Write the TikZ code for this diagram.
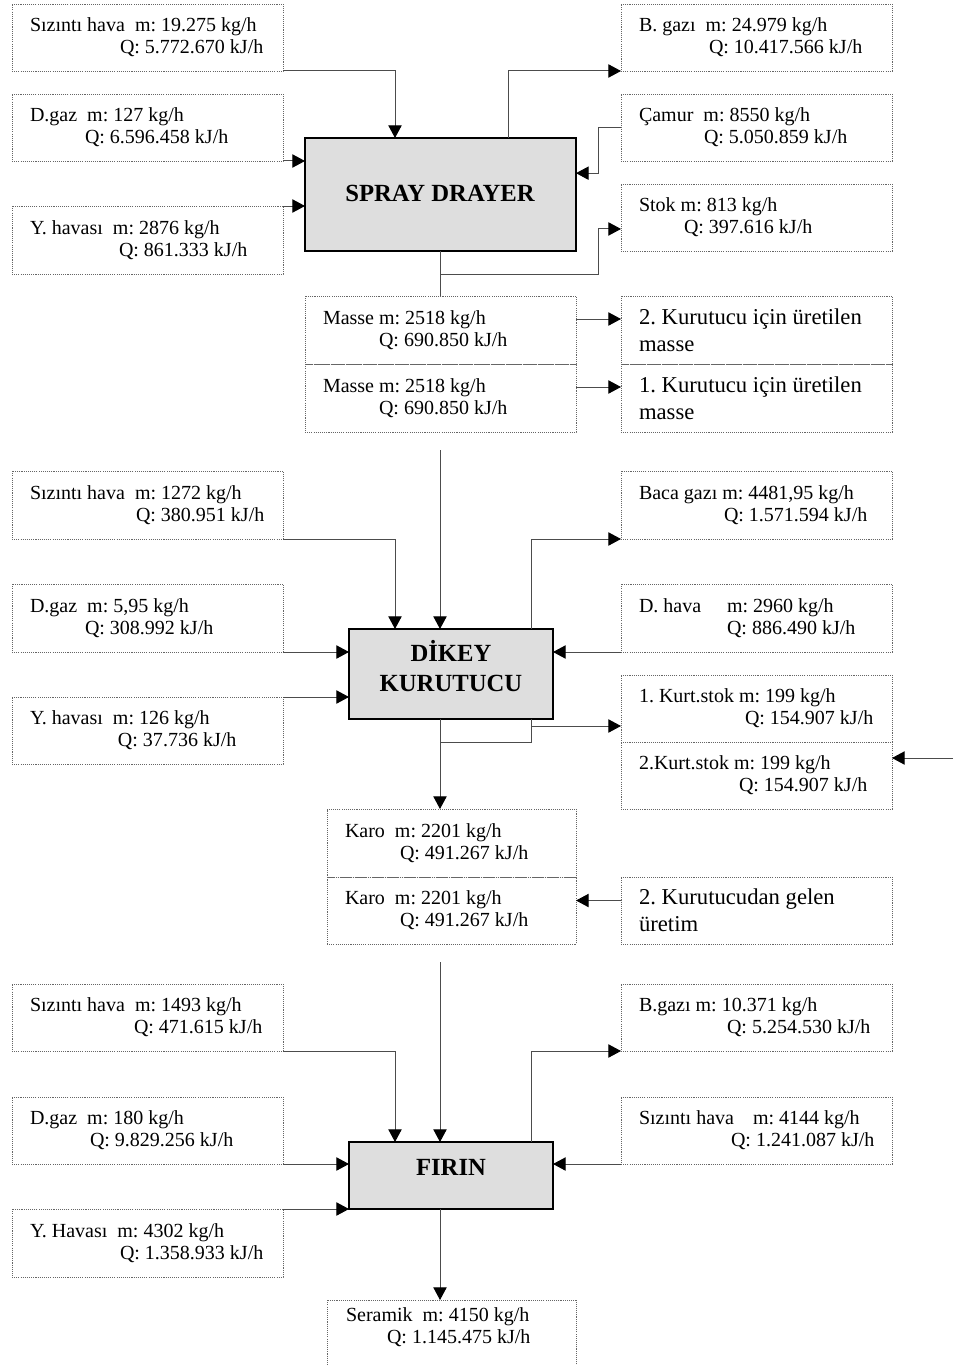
\documentclass[tikz,border=0pt]{standalone}
\usepackage{fontspec}
\setmainfont{Liberation Serif}
\frenchspacing
\usetikzlibrary{arrows.meta,calc}
\tikzset{
  dbox/.style={draw=black!60, line width=0.6pt, dash pattern=on 0.8pt off 0.8pt, rectangle, inner sep=0pt, outer sep=0pt},
  dtext/.style={inner sep=0pt, outer sep=0pt, align=left, font=\fontsize{15}{16.5}\selectfont},
  btext/.style={inner sep=0pt, outer sep=0pt, align=left, font=\fontsize{17}{20}\selectfont},
  pbox/.style={draw=black, line width=1pt, fill=black!13, rectangle, inner sep=0pt, outer sep=0pt},
  ptext/.style={inner sep=0pt, outer sep=0pt, align=center, font=\fontsize{18.5}{22}\selectfont\bfseries},
  conn/.style={draw=black!70, line width=0.75pt},
  arr/.style={conn, -{Triangle[length=9.5pt,width=10pt,color=black]}},
}
\newcommand\dbx[7]{%
  \node[dbox, anchor=north west, minimum width=#4*0.75pt, minimum height=#5*0.75pt] (#1) at (#2,#3) {};
  \node[#6, anchor=west] (#1t) at ([xshift=13.5pt]#1.west) {#7};}
\begin{document}
\begin{tikzpicture}[x=0.75pt,y=-0.75pt]
\useasboundingbox (0,0) rectangle (953,1366);
\clip (0,0) rectangle (953,1366);
\fill[white] (0,0) rectangle (953,1366);

% ---------- Section 1 ----------
\dbx{si1}{12}{4}{271}{67}{dtext}{Sızıntı hava\ \ m: 19.275 kg/h\\\hspace*{67.5pt}Q: 5.772.670 kJ/h}
\dbx{dg1}{12}{94}{271}{67}{dtext}{D.gaz\ \ m: 127 kg/h\\\hspace*{41.25pt}Q: 6.596.458 kJ/h}
\dbx{yh1}{12}{206}{271}{68}{dtext}{Y. havası\ \ m: 2876 kg/h\\\hspace*{66.75pt}Q: 861.333 kJ/h}
\dbx{bg1}{621}{4}{271}{67}{dtext}{B. gazı\ \ m: 24.979 kg/h\\\hspace*{52.5pt}Q: 10.417.566 kJ/h}
\dbx{ca1}{621}{94}{271}{67}{dtext}{Çamur\ \ m: 8550 kg/h\\\hspace*{48.75pt}Q: 5.050.859 kJ/h}
\dbx{st1}{621}{184}{271}{67}{dtext}{Stok m: 813 kg/h\\\hspace*{33.75pt}Q: 397.616 kJ/h}
\dbx{ma1}{305}{296}{271}{68}{dtext}{Masse m: 2518 kg/h\\\hspace*{42pt}Q: 690.850 kJ/h}
\dbx{ma2}{305}{364}{271}{68}{dtext}{Masse m: 2518 kg/h\\\hspace*{42pt}Q: 690.850 kJ/h}
\dbx{ku2}{621}{296}{271}{68}{btext}{2. Kurutucu için üretilen\\masse}
\dbx{ku1}{621}{364}{271}{68}{btext}{1. Kurutucu için üretilen\\masse}
\node[pbox, anchor=north west, minimum width=203.25pt, minimum height=84.75pt] (sd) at (305,138) {};
\node[ptext] (sdt) at (440,193) {SPRAY DRAYER};

% ---------- Section 2 ----------
\dbx{si2}{12}{471}{271}{68}{dtext}{Sızıntı hava\ \ m: 1272 kg/h\\\hspace*{79.5pt}Q: 380.951 kJ/h}
\dbx{dg2}{12}{584}{271}{68}{dtext}{D.gaz\ \ m: 5,95 kg/h\\\hspace*{41.25pt}Q: 308.992 kJ/h}
\dbx{yh2}{12}{697}{271}{67}{dtext}{Y. havası\ \ m: 126 kg/h\\\hspace*{66pt}Q: 37.736 kJ/h}
\dbx{ba2}{621}{471}{271}{68}{dtext}{Baca gazı m: 4481,95 kg/h\\\hspace*{63.75pt}Q: 1.571.594 kJ/h}
\dbx{dh2}{621}{584}{271}{68}{dtext}{\makebox[66pt][l]{D. hava}m: 2960 kg/h\\\hspace*{66pt}Q: 886.490 kJ/h}
\dbx{ks1}{621}{675}{271}{67}{dtext}{1. Kurt.stok m: 199 kg/h\\\hspace*{79.5pt}Q: 154.907 kJ/h}
\dbx{ks2}{621}{742}{271}{67}{dtext}{2.Kurt.stok m: 199 kg/h\\\hspace*{75pt}Q: 154.907 kJ/h}
\dbx{ka1}{327}{809}{249}{68}{dtext}{Karo\ \ m: 2201 kg/h\\\hspace*{41.25pt}Q: 491.267 kJ/h}
\dbx{ka2}{327}{877}{249}{67}{dtext}{Karo\ \ m: 2201 kg/h\\\hspace*{41.25pt}Q: 491.267 kJ/h}
\dbx{ge}{621}{877}{271}{67}{btext}{2. Kurutucudan gelen\\üretim}
\node[pbox, anchor=north west, minimum width=153pt, minimum height=67.5pt] (dk) at (349,629) {};
\node[ptext] (dkt) at (451,666) {DİKEY\\KURUTUCU};

% ---------- Section 3 ----------
\dbx{si3}{12}{984}{271}{67}{dtext}{Sızıntı hava\ \ m: 1493 kg/h\\\hspace*{78pt}Q: 471.615 kJ/h}
\dbx{dg3}{12}{1097}{271}{67}{dtext}{D.gaz\ \ m: 180 kg/h\\\hspace*{45pt}Q: 9.829.256 kJ/h}
\dbx{yh3}{12}{1209}{271}{68}{dtext}{Y. Havası\ \ m: 4302 kg/h\\\hspace*{67.5pt}Q: 1.358.933 kJ/h}
\dbx{bg3}{621}{984}{271}{67}{dtext}{B.gazı m: 10.371 kg/h\\\hspace*{66pt}Q: 5.254.530 kJ/h}
\dbx{sh3}{621}{1097}{271}{67}{dtext}{\makebox[85.5pt][l]{Sızıntı hava}m: 4144 kg/h\\\hspace*{69pt}Q: 1.241.087 kJ/h}
\node[dbox, anchor=north west, minimum width=186.75pt, minimum height=60pt] (se) at (327,1300) {};
\node[dtext, anchor=north west] (set) at (346,1308) {Seramik\ \ m: 4150 kg/h\\\hspace*{30.75pt}Q: 1.145.475 kJ/h};
\node[pbox, anchor=north west, minimum width=153pt, minimum height=50.25pt] (fi) at (349,1142) {};
\node[ptext] (fitxt) at (451,1167) {FIRIN};

% ---------- Connectors, section 1 ----------
\draw[arr] (si1.south east) -| ([xshift=67.5pt]sd.north west);
\draw[arr] (dg1.south east) -- (dg1.south east -| sd.west);
\draw[arr] (yh1.north east) -- (yh1.north east -| sd.west);
\draw[arr] ([xshift=152.25pt]sd.north west) |- (bg1.south west);
\draw[arr] (ca1.west) -- ++(-23,0) |- ([yshift=16pt]sd.east);
\coordinate (sdb) at ([xshift=101.25pt]sd.south west);
\draw[arr] (sdb) -- ++(0,23) -- ++(158,0) |- ([yshift=-8.6pt]st1.west);
\draw[conn] (sdb) -- (sdb |- ma1.north);
\draw[arr] ([yshift=8.25pt]ma1.east) -- ([yshift=8.25pt]ku2.west);
\draw[arr] ([yshift=8.25pt]ma2.east) -- ([yshift=8.25pt]ku1.west);

% ---------- Connectors, section 2 ----------
\coordinate (mab) at ($(ma2.south -| sdb)+(0,18)$);
\draw[arr] (mab) -- (mab |- dk.north);
\draw[arr] (si2.south east) -| ([xshift=34.5pt]dk.north west);
\draw[arr] (dg2.south east) -- (dg2.south east -| dk.west);
\draw[arr] (yh2.north east) -- (yh2.north east -| dk.west);
\draw[arr] ([xshift=136.5pt]dk.north west) |- (ba2.south west);
\draw[arr] (dh2.south west) -- (dh2.south west -| dk.east);
\coordinate (dkb) at (dk.south -| sdb);
\coordinate (dkr) at ([xshift=136.5pt]dk.south west);
\draw[conn] (dkb) |- ($(dkr)+(0,23)$) -- (dkr);
\coordinate (dko) at ($(dkr)+(0,7)$);
\draw[arr] (dko) -- (dko -| ks1.west);
\draw[arr] (dkb) -- (dkb |- ka1.north);
\coordinate (rin) at (953,758);
\draw[arr] (rin) -- (rin -| ks2.east);
\coordinate (gew) at ([yshift=7.5pt]ge.west);
\draw[arr] (gew) -- (gew -| ka2.east);

% ---------- Connectors, section 3 ----------
\coordinate (kab) at ($(ka2.south -| sdb)+(0,18)$);
\draw[arr] (kab) -- (kab |- fi.north);
\draw[arr] (si3.south east) -| ([xshift=34.5pt]fi.north west);
\draw[arr] (dg3.south east) -- (dg3.south east -| fi.west);
\draw[arr] (yh3.north east) -- (yh3.north east -| fi.west);
\draw[arr] ([xshift=136.5pt]fi.north west) |- (bg3.south west);
\draw[arr] (sh3.south west) -- (sh3.south west -| fi.east);
\coordinate (fib) at (fi.south -| sdb);
\draw[arr] (fib) -- (fib |- se.north);
\end{tikzpicture}
\end{document}
